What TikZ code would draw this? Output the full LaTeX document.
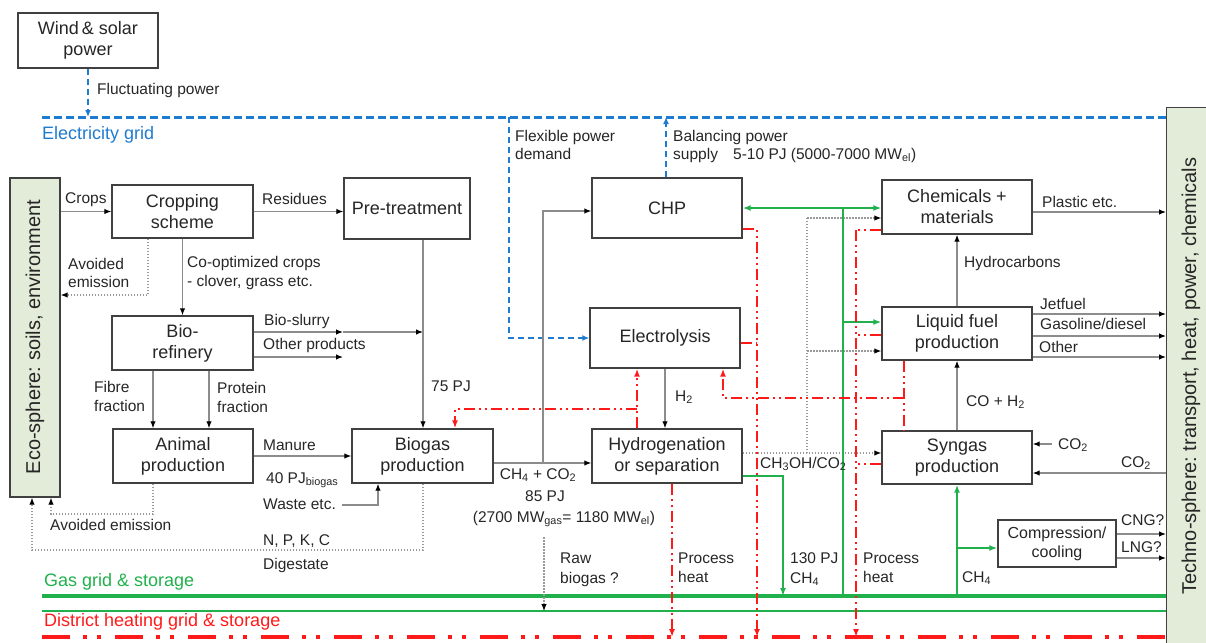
\documentclass[tikz,border=0pt]{standalone}
\usepackage{fontspec}
\setmainfont{Liberation Sans}
\usetikzlibrary{arrows.meta}
\definecolor{bxc}{HTML}{404040}
\definecolor{txc}{HTML}{262626}
\definecolor{gln}{HTML}{8C8C8C}
\definecolor{dtc}{HTML}{9A9A9A}
\definecolor{bl}{HTML}{1E7BD0}
\definecolor{gr}{HTML}{20B04C}
\definecolor{rd}{HTML}{FF1A1A}
\definecolor{sph}{HTML}{E3EBD9}
\newcommand\bxf{\fontsize{18}{21}\selectfont}
\newcommand\lbf{\fontsize{15.5}{18}\selectfont}
\newcommand\grf{\fontsize{18}{21}\selectfont}
\newcommand\sphf{\fontsize{20}{24}\selectfont}
\begin{document}
\begin{tikzpicture}[x=1pt,y=-1pt,
  box/.style={draw=bxc, line width=1.4pt, fill=white, align=center, font=\bxf, text=txc, inner sep=0pt},
  lbl/.style={font=\lbf, text=txc, inner sep=0pt, anchor=west, text height=11pt, text depth=3pt},
  lblc/.style={lbl, anchor=center},
  gl/.style={draw=gln, line width=1.2pt},
  ga/.style={gl, -{Latex[length=7pt,width=5.5pt,color=black]}},
  dt/.style={draw=dtc, line width=1.1pt, dash pattern=on 1.5pt off 1.5pt},
  dta/.style={dt, -{Latex[length=7pt,width=5.5pt,color=black]}},
  bla/.style={draw=bl, line width=1.6pt, dash pattern=on 6pt off 4pt, -{Latex[length=7pt,width=6pt]}},
  grl/.style={draw=gr, line width=1.6pt},
  gra/.style={grl, -{Latex[length=8pt,width=6pt]}},
  rdd/.style={draw=rd, line width=1.8pt, dash pattern=on 11pt off 4pt on 2pt off 4pt on 2pt off 4pt},
  rda/.style={rdd, -{Latex[length=8pt,width=6pt]}},
  sphbox/.style={draw=bxc, line width=1.4pt, fill=sph, inner sep=0pt}
]
\path[use as bounding box] (0,0) rectangle (1206,642);
\clip (0,0) rectangle (1206,642);

% helper coordinates
\foreach \v in {32,51,148,153,209,341,343,378,423,455,509,537,543,544,637,665,666,672,723,757,783,807,843,856,904,957,1052}
  \coordinate (x\v) at (\v,0);
\foreach \v in {208,211,212,218,229,230,295,314,322,332,335,336,343,351,357,398,409,444,453,463,464,473,476,506,514,534,537,548,550,558}
  \coordinate (y\v) at (0,\v);
\coordinate (eg) at (42,117);
\coordinate (ggrid) at (42,596);
\coordinate (gthin) at (42,611);
\coordinate (rgrid) at (42,637);

% spheres
\node[sphbox, minimum width=50, minimum height=319] (eco) at (35,337.5) {};
\node[rotate=90, font=\sphf, text=txc] (ecot) at (35,337) {Eco-sphere:\ soils,\ environment};
\node[sphbox, minimum width=60, minimum height=545, anchor=north west] (techno) at (1166,107) {};
\node[rotate=90, font=\sphf, text=txc] (technot) at (1191,376) {Techno-sphere:\ transport,\ heat,\ power,\ chemicals};

% grids
\draw[bl, line width=3pt, dash pattern=on 8pt off 4pt] (eg) -- (eg -| techno.west);
\draw[gr, line width=4pt] (ggrid) -- (ggrid -| techno.west);
\draw[gr, line width=2pt] (gthin) -- (gthin -| techno.west);
\draw[rd, line width=4pt, dash pattern=on 28pt off 13pt on 4pt off 10pt on 4pt off 14pt] (rgrid) -- (rgrid -| techno.west);

% boxes
\node[box, minimum width=140, minimum height=55] (wind) at (88,40.5) {Wind\,\&\ solar\\power};
\node[box, minimum width=141, minimum height=53] (crop) at (182.5,211.5) {Cropping\\scheme};
\node[box, minimum width=126, minimum height=61] (pre) at (407,208.5) {Pre-treatment};
\node[box, minimum width=141, minimum height=54] (bio) at (182.5,343) {Bio-\\refinery};
\node[box, minimum width=140, minimum height=54] (animal) at (183,456) {Animal\\production};
\node[box, minimum width=141, minimum height=54] (biogas) at (422.5,456) {Biogas\\production};
\node[box, minimum width=150, minimum height=60] (chp) at (667,208) {CHP};
\node[box, minimum width=150, minimum height=60] (elec) at (665,338) {Electrolysis};
\node[box, minimum width=150, minimum height=54] (hyd) at (667,456) {Hydrogenation\\or separation};
\node[box, minimum width=150, minimum height=54] (chem) at (957,207) {Chemicals +\\materials};
\node[box, minimum width=150, minimum height=53] (liq) at (957,333.5) {Liquid fuel\\production};
\node[box, minimum width=150, minimum height=53] (syn) at (957,457.5) {Syngas\\production};
\node[box, minimum width=118, minimum height=47, font=\fontsize{16}{19}\selectfont] (comp) at (1057,543.5) {Compression/\\cooling};

% blue connectors
\draw[bla] (wind.south) -- (wind.south |- eg);
\draw[bla] (x509 |- eg) |- (elec.west);
\draw[bla] (chp.north -| x666) -- (x666 |- eg);

% grey connectors
\draw[ga] (eco.east |- crop.west) -- (crop.west);
\draw[ga] (crop.east) -- (crop.east -| pre.west);
\draw[dta] (crop.south -| x148) |- (eco.east |- y295);
\draw[ga] (crop.south) -- (bio.north);
\draw[ga] (bio.east |- y332) -- (x343 |- y332);
\draw[ga] (x343 |- y332) -- (x423 |- y332);
\draw[ga] (bio.east |- y357) -- (x343 |- y357);
\draw[ga] (pre.south -| x423) -- (biogas.north -| x423);
\draw[ga] (bio.south -| x153) -- (animal.north -| x153);
\draw[ga] (bio.south -| x209) -- (animal.north -| x209);
\draw[ga] (animal.east) -- (biogas.west);
\draw[dta] (animal.south -| x153) |- (x51 |- y514) -- (eco.south -| x51);
\draw[dta] (biogas.south -| x423) |- (x32 |- y550) -- (eco.south -| x32);
\draw[ga] (biogas.east |- y463) -- (hyd.west |- y463);
\draw[ga] (x543 |- y463) |- (chp.west |- y211);
\draw[dta] (x544 |- y537) -- (x544 |- gthin);
\draw[ga] (elec.south -| x665) -- (hyd.north -| x665);
\draw[dta] (hyd.east |- y453) -- (syn.west |- y453);
\draw[dt] (x807 |- y453) -- (x807 |- y218);
\draw[dta] (x807 |- y218) -- (chem.west |- y218);
\draw[dta] (x807 |- y351) -- (liq.west |- y351);
\draw[ga] (liq.north) -- (chem.south);
\draw[ga] (syn.north) -- (liq.south);
\draw[ga] (chem.east |- y212) -- (techno.west |- y212);
\draw[ga] (liq.east |- y314) -- (techno.west |- y314);
\draw[ga] (liq.east |- y336) -- (techno.west |- y336);
\draw[ga] (liq.east |- y357) -- (techno.west |- y357);
\draw[ga] (x1052 |- y444) -- (syn.east |- y444);
\draw[ga] (techno.west |- y473) -- (syn.east |- y473);
\draw[ga] (comp.east |- y534) -- (techno.west |- y534);
\draw[ga] (comp.east |- y558) -- (techno.west |- y558);

% green connectors
\draw[grl] (x843 |- ggrid) -- (x843 |- y208);
\draw[gra] (x843 |- y208) -- (chp.east |- y208);
\draw[gra] (x843 |- y208) -- (chem.west |- y208);
\draw[gra] (x843 |- y322) -- (liq.west |- y322);
\draw[gra] (hyd.east |- y476) -| (x783 |- ggrid);
\draw[gra] (x957 |- ggrid) -- (syn.south);
\draw[gra] (x957 |- y548) -- (comp.west |- y548);

% red connectors
\draw[rda] (hyd.north -| x637) -- (elec.south -| x637);
\draw[rda] (x637 |- y409) -| (biogas.north -| x455);
\draw[rdd] (liq.south -| x904) -- (syn.north -| x904);
\draw[rda] (x904 |- y398) -| (elec.south -| x723);
\draw[rda] (chp.east |- y229) -| (x757 |- rgrid);
\draw[rdd] (elec.east |- y343) -- (x757 |- y343);
\draw[rda] (hyd.south -| x672) -- (x672 |- rgrid);
\draw[rdd] (chem.west |- y230) -- (x856 |- y230);
\draw[rdd] (liq.west |- y335) -- (x856 |- y335);
\draw[rdd] (syn.west |- y464) -- (x856 |- y464);
\draw[rda] (x856 |- y230) -- (x856 |- rgrid);

% labels
\node[lbl] (fluct) at (97,90) {Fluctuating power};
\node[lbl, font=\grf, text=bl, text height=13pt, text depth=4pt] (egl) at (42,135) {Electricity grid};
\node[lbl, font=\grf, text=gr, text height=13pt, text depth=4pt] (ggl) at (44,582) {Gas grid \& storage};
\node[lbl, font=\grf, text=rd, text height=13pt, text depth=4pt] (dhl) at (44,622) {District heating grid \& storage};
\node[lbl] (flex1) at (515,137) {Flexible power};
\node[lbl] (flex2) at (515,155) {demand};
\node[lbl] (bal1) at (673,137) {Balancing power};
\node[lbl] (bal2) at (673,155) {supply};
\node[lbl] (bal3) at (733,155) {5-10 PJ (5000-7000 MW\textsubscript{el})};
\node[lbl] (crops) at (65,199) {Crops};
\node[lbl] (resid) at (262,200) {Residues};
\node[lbl] (av1) at (68,265) {Avoided};
\node[lbl] (av2) at (68,283) {emission};
\node[lbl] (co1) at (187,263) {Co-optimized crops};
\node[lbl] (co2) at (187,282) {- clover, grass etc.};
\node[lbl] (bs) at (264,321) {Bio-slurry};
\node[lbl] (op) at (263,345) {Other products};
\node[lbl] (pj75) at (431,387) {75 PJ};
\node[lbl] (fib1) at (94,388) {Fibre};
\node[lbl] (fib2) at (94,407) {fraction};
\node[lbl] (pro1) at (217,389) {Protein};
\node[lbl] (pro2) at (217,408) {fraction};
\node[lbl] (man) at (263,446) {Manure};
\node[lbl] (pj40) at (266,479) {40 PJ\textsubscript{biogas}};
\node[lbl] (waste) at (263,505) {Waste etc.};
\draw[ga] ([xshift=6pt]waste.east) -| (biogas.south -| x378);
\node[lbl] (av3) at (50,526) {Avoided emission};
\node[lbl] (npk) at (263,541) {N, P, K, C};
\node[lbl] (dig) at (263,565) {Digestate};
\node[lblc] (ch4co2) at (538,475) {CH\textsubscript{4} + CO\textsubscript{2}};
\node[lblc] (pj85) at (545,497) {85 PJ};
\node[lblc] (mw) at (564,518) {(2700 MW\textsubscript{gas}= 1180 MW\textsubscript{el})};
\node[lbl] (raw1) at (560,559) {Raw};
\node[lbl] (raw2) at (560,579) {biogas ?};
\node[lbl] (h2) at (675,397) {H\textsubscript{2}};
\node[lbl] (ph1) at (678,559) {Process};
\node[lbl] (ph2) at (678,578) {heat};
\node[lbl] (meth) at (760,464) {CH\textsubscript{3}OH/CO\textsubscript{2}};
\node[lbl] (pj130a) at (790,559) {130 PJ};
\node[lbl] (pj130b) at (790,579) {CH\textsubscript{4}};
\node[lbl] (ph3) at (863,559) {Process};
\node[lbl] (ph4) at (863,578) {heat};
\node[lbl] (ch4) at (962,578) {CH\textsubscript{4}};
\node[lbl] (hc) at (964,263) {Hydrocarbons};
\node[lbl] (coh2) at (966,402) {CO + H\textsubscript{2}};
\node[lbl] (plast) at (1042,203) {Plastic etc.};
\node[lbl] (jet) at (1040,305) {Jetfuel};
\node[lbl] (gasd) at (1040,325) {Gasoline/diesel};
\node[lbl] (oth) at (1039,348) {Other};
\node[lbl] (co2a) at (1058,445) {CO\textsubscript{2}};
\node[lbl] (co2b) at (1121,463) {CO\textsubscript{2}};
\node[lbl] (cng) at (1121,521) {CNG?};
\node[lbl] (lng) at (1121,548) {LNG?};
\end{tikzpicture}
\end{document}
